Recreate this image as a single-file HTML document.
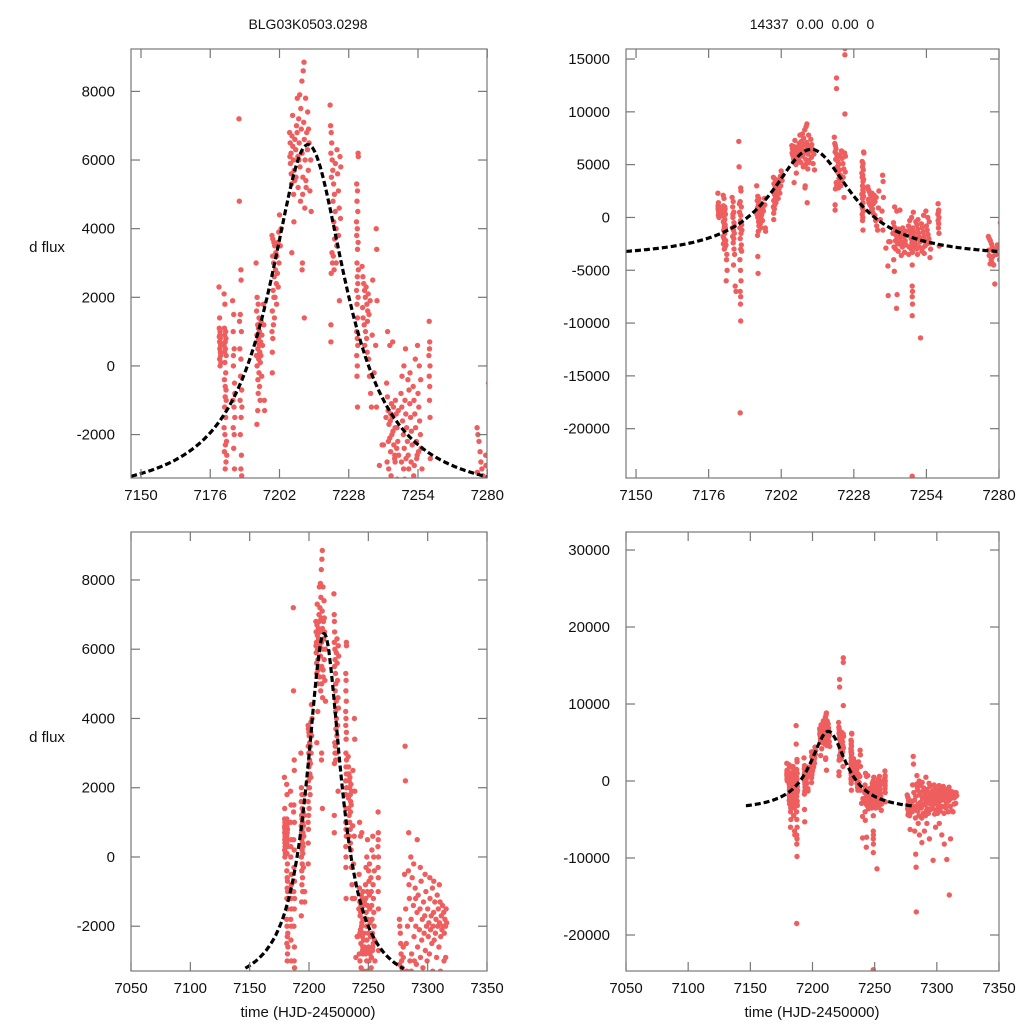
<!DOCTYPE html>
<html><head><meta charset="utf-8"><style>
html,body{margin:0;padding:0;background:#fff;overflow:hidden;width:1024px;height:1024px;}
svg{display:block;}
svg text{font-family:"Liberation Sans",sans-serif;fill:#111;}
</style></head><body>
<svg id="chart" width="1024" height="1024" viewBox="0 0 1024 1024" xmlns="http://www.w3.org/2000/svg">
<rect width="1024" height="1024" fill="#fff"/>
<text x="308" y="29" text-anchor="middle" font-size="14">BLG03K0503.0298</text>
<text x="812" y="29" text-anchor="middle" font-size="14" xml:space="preserve">14337  0.00  0.00  0</text>
<text x="47" y="252" text-anchor="middle" font-size="15">d flux</text>
<text x="47" y="742" text-anchor="middle" font-size="15">d flux</text>
<text x="308" y="1017" text-anchor="middle" font-size="15">time (HJD-2450000)</text>
<text x="812" y="1017" text-anchor="middle" font-size="15">time (HJD-2450000)</text>
</svg>
<script>
// Observations [time, dflux]
const season1 = [
[7179.3,2300],[7179.5,1400],[7179.4,1100],[7179.7,1000],[7179.6,900],[7179.8,800],[7179.5,700],[7179.9,600],[7179.6,500],[7179.8,400],[7179.5,200],[7179.7,0],[7180.0,100],[7179.4,850],[7180.1,650],[7179.9,300],
[7181.2,2100],[7181.5,1800],[7181.3,1100],[7181.8,1000],[7181.4,900],[7181.9,800],[7181.6,700],[7181.2,600],[7181.7,500],[7182.0,300],[7181.5,100],[7181.8,-200],[7181.3,-400],[7181.9,-700],[7181.6,-900],[7181.4,-1200],[7181.8,-1500],[7181.5,-2000],[7181.7,-2300],[7181.3,-2500],[7181.9,-2800],[7181.6,-3000],[7182.1,-2200],[7181.2,-1800],[7182.4,-4000],[7182.6,-5000],[7182.3,-6000],[7182.5,-3500],[7182.2,-2600],[7182.0,-1000],[7181.4,400],[7181.6,-600],
[7184.4,1900],[7184.8,1500],[7184.6,1000],[7185.0,500],[7184.7,0],[7185.1,-500],[7184.5,-1000],[7184.9,-1200],[7185.2,-1500],[7184.6,-1800],[7185.0,-2000],[7184.8,-2400],[7185.1,-3000],[7185.3,-3500],[7184.9,-4500],[7185.5,-6500],[7185.8,-7000],[7184.7,300],[7185.2,-800],
[7186.8,7200],[7186.9,4800],[7187.5,2800],[7187.6,2500],[7187.3,1500],[7187.7,1000],[7187.1,500],[7187.5,200],[7187.4,-300],[7187.8,-700],[7187.2,-1000],[7187.6,-1500],[7187.3,-2000],[7187.7,-2600],[7187.5,-3000],[7187.8,-3200],[7187.2,-4000],[7187.4,-5000],[7187.6,-6000],[7187.3,-7000],[7187.5,-7500],[7187.4,-8200],[7187.5,-9800],[7187.3,-18500],[7187.0,1300],[7187.9,-1200],
[7193.2,3000],[7193.6,2000],[7194.0,1800],[7193.4,1600],[7194.3,1400],[7193.8,1200],[7194.5,1000],[7193.5,900],[7194.1,800],[7193.7,700],[7194.4,600],[7193.9,500],[7194.6,400],[7193.3,300],[7194.2,200],[7194.8,100],[7193.6,0],[7194.3,-200],[7193.9,-400],[7194.5,-600],[7194.0,-800],[7194.7,-1000],[7193.8,-1300],[7193.5,-1700],[7195.1,1300],[7195.4,900],[7195.0,300],[7195.3,-300],[7196.0,1800],[7196.1,1200],[7196.3,-1000],[7196.4,-1300],[7193.6,-3700],[7193.7,-5300],[7194.9,700],[7194.1,1100],[7195.6,600],
[7199.2,3800],[7199.5,3700],[7199.9,3600],[7200.2,3500],[7199.4,3200],[7199.8,3000],[7200.5,2800],[7200.0,2600],[7200.8,2400],[7199.6,2200],[7200.3,2000],[7200.9,1800],[7199.3,1600],[7200.1,1400],[7199.7,1200],[7199.2,1000],[7199.5,800],[7199.3,400],[7199.3,-200],[7201.0,3200],[7201.4,3600],[7201.7,3900],[7202.0,4400],[7201.2,2700],[7201.8,3000],[7202.3,3500],[7202.6,4000],[7201.5,2300],[7200.6,3300],[7199.9,2000],
[7205.8,6800],[7206.0,6500],[7206.3,6200],[7206.1,5900],[7206.4,5600],[7206.7,6700],[7207.0,6400],[7207.2,6000],[7207.5,5700],[7207.8,6600],[7208.1,6300],[7208.4,7000],[7208.6,6800],[7208.9,6100],[7209.2,7200],[7209.4,6500],[7209.7,5800],[7210.0,7500],[7210.2,6900],[7210.5,6200],[7210.8,5500],[7211.1,7100],[7211.3,6600],[7211.6,6000],[7211.9,5400],[7212.2,6800],[7212.5,6300],[7212.8,5700],[7213.1,6500],[7213.4,5100],[7213.7,6000],[7206.5,5300],[7207.3,5000],[7208.2,5500],[7209.0,5200],[7209.9,4800],[7210.7,5000],[7211.5,4600],[7212.0,5200],[7206.9,7300],[7208.7,7800],[7209.6,7900],[7210.4,8300],[7210.9,8600],[7211.2,8850],[7211.8,7800],[7212.6,7400],[7207.4,4200],[7206.6,3300],[7210.6,3000],[7210.5,2800],[7211.3,1400],[7213.9,4500],[7205.9,6100],[7212.9,6900],[7209.3,6000],[7207.7,5400],
[7221.0,7600],[7221.2,7000],[7221.4,6800],[7221.6,6500],[7221.3,6200],[7221.8,6000],[7222.0,5700],[7221.5,5500],[7222.3,5300],[7222.6,5000],[7222.1,4800],[7222.9,4500],[7222.4,4200],[7223.2,4000],[7222.7,3700],[7223.5,3500],[7221.7,3300],[7222.2,3200],[7221.9,3000],[7222.5,2800],[7221.4,2700],[7224.5,1900],[7221.3,1200],[7221.3,700],[7223.8,5600],[7224.1,5100],[7224.4,4600],[7224.7,6100],[7225.0,5800],[7224.9,4300],[7223.6,6300],[7223.0,5900],[7221.8,13200],[7221.8,12200],[7224.8,16000],[7224.8,15400],[7224.8,9800],[7223.3,3000],[7224.2,3800],
[7231.5,6200],[7231.6,6100],[7231.0,5300],[7231.3,5100],[7231.1,4800],[7231.4,4500],[7230.9,4200],[7231.2,4000],[7231.0,3800],[7231.5,3600],[7231.3,3400],[7231.1,3000],[7231.6,2800],[7231.2,2600],[7231.4,2400],[7230.9,2200],[7231.5,2000],[7231.1,1800],[7231.3,1400],[7231.0,1000],[7231.2,800],[7231.4,600],[7231.0,300],[7231.2,0],[7231.1,-300],[7231.3,-1200],
[7233.0,2900],[7233.3,2600],[7233.6,2400],[7233.9,2200],[7234.2,2000],[7234.5,2300],[7234.8,1800],[7235.1,1600],[7233.4,1400],[7233.8,1200],[7234.3,1000],[7234.7,800],[7235.0,1300],[7235.3,2100],[7235.6,1500],[7233.2,1700],[7234.0,600],[7234.9,400],[7235.5,200],[7235.8,-300],[7236.2,-800],[7236.5,-1200],[7236.8,900],[7237.0,2500],[7236.0,1900],
[7238.3,4000],[7238.5,3400],[7238.6,1900],[7238.1,600],[7238.4,-1200],[7237.5,-200],[7240.5,-2300],[7239.5,-2900],[7240.2,-4600],[7240.3,-7400],
[7242.2,-500],[7242.5,-900],[7242.8,-1300],[7243.1,-1700],[7243.4,-2100],[7243.7,-2500],[7244.0,-1100],[7244.3,-1500],[7244.6,-1900],[7244.9,-2300],[7245.2,-2700],[7245.5,-1000],[7245.8,-1400],[7246.1,-1800],[7246.4,-2200],[7246.7,-2600],[7242.4,-2800],[7243.0,-3000],[7243.6,-1600],[7244.2,-2000],[7244.8,-1200],[7245.4,-1800],[7246.0,-2400],[7246.6,-1300],[7242.6,1000],[7243.4,600],[7244.5,700],[7242.0,-1500],[7242.9,-2200],[7243.8,-1400],[7241.0,-2300],[7245.3,-2600],[7245.4,-2800],[7242.3,-4000],[7242.5,-5100],[7243.5,-7300],[7243.3,-8600],[7243.9,-3200],[7245.0,-3600],[7246.2,-3300],
[7247.6,-800],[7247.9,-1200],[7248.2,-1600],[7248.5,-2000],[7248.8,-2400],[7249.1,-1000],[7249.4,-1400],[7249.7,-1800],[7250.0,-2200],[7250.3,-2600],[7250.6,-700],[7250.9,-1100],[7251.2,-1500],[7251.5,-1900],[7251.8,-2300],[7248.0,-300],[7248.7,0],[7249.3,500],[7250.2,-400],[7251.0,-200],[7247.8,-2800],[7248.6,-3000],[7249.5,-2700],[7250.5,-3000],[7251.4,-2800],[7249.0,-3300],[7248.9,-4500],[7248.9,-6500],[7249.0,-7000],[7248.9,-7500],[7249.0,-8200],[7248.9,-9300],[7248.9,-24500],[7250.8,-3500],[7247.7,-3500],
[7252.2,-600],[7252.5,-1000],[7252.8,-1400],[7253.1,-1800],[7253.4,-2200],[7253.7,-2600],[7254.0,-800],[7254.3,-1200],[7254.6,-1600],[7254.9,-2000],[7255.2,-2400],[7255.5,-3000],[7252.4,-3200],[7253.0,200],[7253.8,600],[7254.5,0],[7255.0,-400],[7252.6,-2900],[7253.5,-2700],[7254.2,-2500],[7251.9,-11400],[7255.3,-3800],[7253.2,-3400],
[7258.2,1300],[7258.4,700],[7258.3,500],[7258.5,0],[7258.2,-300],[7258.4,-600],[7258.3,-1000],[7258.5,-1500],[7258.6,-2700],[7258.1,300],
[7276.2,-1800],[7276.5,-2000],[7276.9,-2200],[7277.3,-2500],[7277.6,-2800],[7278.0,-3000],[7278.4,-3200],[7278.7,-3300],[7279.1,-3500],[7277.2,-4000],[7278.1,-4500],[7278.5,-6300],[7276.3,-3100],[7279.4,-2600],[7277.8,-3700],[7276.8,-4400]
];
const season2 = [
[7280.5,-500],[7281,3200],[7281.2,2200],[7281.5,-1500],[7282,-2500],[7282.5,-3300],[7283,-2000],[7283.5,-3800],[7284,700],[7284.3,-800],[7284.6,-1200],[7285,-3000],[7285.5,-4500],[7286,-1800],[7286.5,-2800],[7287,-600],[7287.5,-3500],[7288,-1400],[7288.5,-2300],[7289,-4200],[7289.5,-900],[7290,-2000],[7290.5,-3100],[7291,-1600],[7291.5,-2600],[7292,-1100],[7292.5,-3600],[7293,-2100],[7293.5,-1500],[7294,-2900],[7294.5,-700],[7295,-2400],[7295.5,-1800],[7296,-3200],[7296.5,-1300],[7297,-2200],[7297.5,-1700],[7298,-2700],[7298.5,-1000],[7299,-2000],[7299.5,-3000],[7300,-1500],[7300.5,-2300],[7301,-1900],[7301.5,-2800],[7302,-1200],[7302.5,-2100],[7303,-1700],[7303.5,-2500],[7304,-900],[7304.5,-2000],[7305,-1600],[7305.5,-2400],[7306,-1300],[7306.5,-2200],[7307,-1800],[7307.5,-2900],[7308,-1100],[7308.5,-2000],[7309,-1500],[7309.5,-2600],[7310,-1900],[7310.5,-1300],[7311,-2300],[7311.5,-1700],[7312,-2100],[7312.5,-1400],[7313,-2000],[7313.5,-1600],[7314,-2200],[7314.5,-1800],[7315,-2000],[7315.5,-1500],[7316,-1900],
[7276.5,-3600],[7277.5,-4300],[7279.5,-2900],[7280.2,-4000],[7281.8,-3600],[7282.8,-4800],[7284.8,-3900],[7286.2,-3300],[7287.8,-4800],[7288.8,-3000],[7289.8,-1200],[7290.8,-4500],[7291.8,-3800],[7293.2,-4200],[7294.8,-3700],[7296.8,-3600],[7298.2,-4300],[7299.8,-3800],[7301.2,-3400],[7302.8,-3900],[7304.2,-3300],[7305.8,-4200],[7307.2,-3500],[7309.2,-4000],[7310.8,-3300],[7312.2,-3900],[7313.8,-3000],[7315.2,-2900],[7283.8,-400],[7285.8,0],[7288.2,-200],[7291.2,500],[7293.8,-300],[7297.8,-500],[7301.8,-600],[7305.2,-700],[7309.8,-800],
[7282.2,-6500],[7283,-9500],[7283.3,-11200],[7283.5,-17000],[7286,-7000],[7288,-8000],[7290,-6500],[7292,-5500],[7294,-7500],[7297,-10300],[7299,-6000],[7302,-5500],[7304,-7000],[7306,-8200],[7308,-10200],[7310,-14800],[7311,-7500],[7313,-4000],[7285,-5500],[7300.5,-4200]
];
// Model (point-lens like curve) parameters
const modelT0 = [7212.7];
const modelAmp = [10350];
const modelBase = [-3900];
const modelWidth = [17.7];
// Axis ticks
const xTicksSeason = [7150,7176,7202,7228,7254,7280];
const xTicksFull = [7050,7100,7150,7200,7250,7300,7350];
const yTicksTL = [-2000,0,2000,4000,6000,8000];
const yTicksTR = [-20000,-15000,-10000,-5000,0,5000,10000,15000];
const yTicksBL = [-2000,0,2000,4000,6000,8000];
const yTicksBR = [-20000,-10000,0,10000,20000,30000];

const panels = [
 {id:'top-left', x0:131,x1:487,y0:49,y1:478, tmin:7146.25,tmax:7279.9, fmin:-3265,fmax:9235, xt:xTicksSeason, yt:yTicksTL, m0:7146.3, m1:7280},
 {id:'top-right', x0:626,x1:999,y0:49,y1:478, tmin:7146.4,tmax:7280, fmin:-24670,fmax:15950, xt:xTicksSeason, yt:yTicksTR, m0:7146.4, m1:7280},
 {id:'bottom-left', x0:131,x1:487,y0:532,y1:971, tmin:7050,tmax:7350, fmin:-3293,fmax:9385, xt:xTicksFull, yt:yTicksBL, m0:7146.4, m1:7280},
 {id:'bottom-right', x0:626,x1:999,y0:532,y1:971, tmin:7050,tmax:7350, fmin:-24675,fmax:32340, xt:xTicksFull, yt:yTicksBR, m0:7146.4, m1:7280}
];
const NS='http://www.w3.org/2000/svg';
const svg=document.getElementById('chart');
function mk(tag,attrs,parent){const e=document.createElementNS(NS,tag);for(const k in attrs)e.setAttribute(k,attrs[k]);(parent||svg).appendChild(e);return e;}
function model(t){const u=(t-modelT0[0])/modelWidth[0];return modelBase[0]+modelAmp[0]/(1+u*u);}
const allPts=season1.concat(season2);
panels.forEach((p,pi)=>{
  const xs=t=>p.x0+(t-p.tmin)/(p.tmax-p.tmin)*(p.x1-p.x0);
  const ys=f=>p.y1-(f-p.fmin)/(p.fmax-p.fmin)*(p.y1-p.y0);
  const g=mk('g',{});
  
  
  const cp=mk('clipPath',{id:'clip'+pi},g);
  mk('rect',{x:p.x0,y:p.y0,width:p.x1-p.x0,height:p.y1-p.y0},cp);
  const pg=mk('g',{'clip-path':'url(#clip'+pi+')'},g);
  
  
  allPts.forEach(d=>{
    const tSpan=(p.tmax-p.tmin)*0.01, fSpan=(p.fmax-p.fmin)*0.01;
    if(d[0]<p.tmin-tSpan||d[0]>p.tmax+tSpan||d[1]<p.fmin-fSpan||d[1]>p.fmax+fSpan) return;
    const c=mk('circle',{cx:xs(d[0]).toFixed(1),cy:ys(d[1]).toFixed(1),r:2.7,fill:'#ef5e5e'},pg);
    
    
  });
  let path='';
  for(let t=p.m0;t<=p.m1+0.001;t+=0.5){
    const f=Math.max(model(t),p.fmin-(p.fmax-p.fmin)*0.02);
    path+=(path?'L':'M')+xs(t).toFixed(1)+','+ys(f).toFixed(1);
  }
  const ml=mk('path',{d:path,fill:'none',stroke:'#000','stroke-width':3.2,'stroke-dasharray':'6,3'},pg);
  
  
  const fr=mk('rect',{x:p.x0,y:p.y0,width:p.x1-p.x0,height:p.y1-p.y0,fill:'none',stroke:'#777','stroke-width':1.2},g);
  
  
  p.xt.forEach(v=>{
    const x=xs(v);
    mk('line',{x1:x,x2:x,y1:p.y1,y2:p.y1-9,stroke:'#777','stroke-width':1.2},g);
    mk('line',{x1:x,x2:x,y1:p.y0,y2:p.y0+9,stroke:'#777','stroke-width':1.2},g);
    const tx=mk('text',{x:x,y:p.y1+22,'text-anchor':'middle','font-size':15},g);
    tx.textContent=v;
    
    
  });
  p.yt.forEach(v=>{
    const y=ys(v);
    mk('line',{x1:p.x0,x2:p.x0+9,y1:y,y2:y,stroke:'#777','stroke-width':1.2},g);
    mk('line',{x1:p.x1,x2:p.x1-9,y1:y,y2:y,stroke:'#777','stroke-width':1.2},g);
    const tx=mk('text',{x:p.x0-16,y:y+5,'text-anchor':'end','font-size':15},g);
    tx.textContent=v;
    
    
  });
});
</script>
</body></html>
